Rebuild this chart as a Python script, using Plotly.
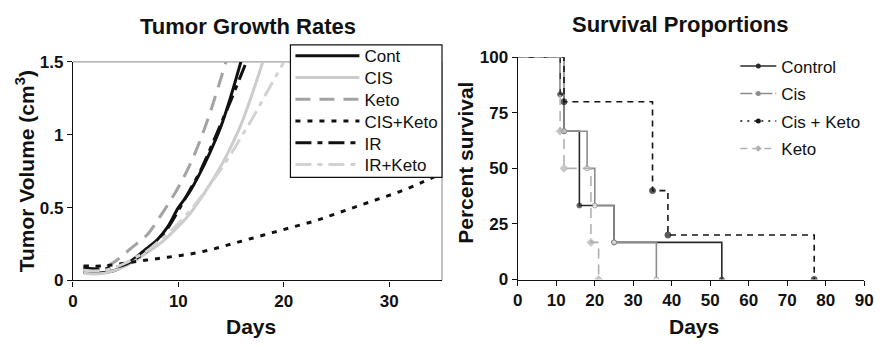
import plotly.graph_objects as go

# ---- Tumor growth (fitted volume curves, cm^3 by day) ----
days_cont = [1, 2, 3, 4, 5, 6, 7, 8, 9, 10, 11, 12, 13, 14, 15, 16]
vol_cont = [0.06, 0.05, 0.055, 0.07, 0.11, 0.16, 0.22, 0.28, 0.37, 0.5, 0.6, 0.73, 0.88, 1.05, 1.27, 1.52]

days_cis = [1, 2, 3, 4, 5, 6, 7, 8, 9, 10, 11, 12, 13, 14, 15, 16, 17, 18]
vol_cis = [0.05, 0.045, 0.05, 0.07, 0.1, 0.14, 0.19, 0.24, 0.3, 0.37, 0.45, 0.55, 0.66, 0.78, 0.92, 1.08, 1.28, 1.5]

days_keto = [1, 2, 3, 4, 5, 6, 7, 8, 9, 10, 11, 12, 13, 14, 15]
vol_keto = [0.08, 0.075, 0.09, 0.13, 0.19, 0.25, 0.31, 0.41, 0.52, 0.64, 0.78, 0.95, 1.15, 1.38, 1.62]

days_ciske = [1, 3, 5, 7, 9, 11, 13, 15, 17, 19, 21, 23, 25, 27, 29, 31, 33, 34.5]
vol_ciske = [0.10, 0.10, 0.12, 0.14, 0.16, 0.18, 0.21, 0.25, 0.29, 0.33, 0.37, 0.41, 0.46, 0.51, 0.56, 0.61, 0.67, 0.72]

days_ir = [1, 2, 3, 4, 5, 6, 7, 8, 9, 10, 11, 12, 13, 14, 15, 16, 17]
vol_ir = [0.09, 0.08, 0.08, 0.09, 0.11, 0.15, 0.2, 0.27, 0.36, 0.48, 0.61, 0.74, 0.9, 1.07, 1.24, 1.42, 1.6]

days_irke = [1, 2, 3, 4, 5, 6, 7, 8, 9, 10, 11, 12, 13, 14, 15, 16, 17, 18, 19, 20, 21]
vol_irke = [0.07, 0.065, 0.07, 0.09, 0.12, 0.16, 0.2, 0.26, 0.32, 0.39, 0.47, 0.56, 0.66, 0.76, 0.87, 0.99, 1.11, 1.24, 1.37, 1.5, 1.63]

growth_x_ticks = [0, 10, 20, 30]
growth_y_ticks = [0, 0.5, 1, 1.5]
growth_y_labels = ["0", "0.5", "1", "1.5"]

# ---- Survival (Kaplan-Meier step points) ----
surv_ctrl_x = [0, 11, 12, 16, 25, 53]
surv_ctrl_y = [100, 83.3, 66.7, 33.3, 16.7, 0]

surv_cis_x = [0, 12, 18, 20, 25, 36]
surv_cis_y = [100, 66.7, 50, 33.3, 16.7, 0]

surv_ck_x = [0, 12, 35, 39, 77]
surv_ck_y = [100, 80, 40, 20, 0]

surv_keto_x = [0, 11, 12, 19, 21]
surv_keto_y = [100, 66.7, 50, 16.7, 0]

surv_x_ticks = [0, 10, 20, 30, 40, 50, 60, 70, 80, 90]
surv_y_ticks = [0, 25, 50, 75, 100]

FONT = "Liberation Sans, Arial, sans-serif"
W, H = 889, 351

fig = go.Figure()

# growth curves: (name, x, y, color, dash)
growth = [
    ("Cont", days_cont, vol_cont, "#111111", "solid"),
    ("CIS", days_cis, vol_cis, "#cccccc", "solid"),
    ("Keto", days_keto, vol_keto, "#a3a3a3", "15px,9px"),
    ("CIS+Keto", days_ciske, vol_ciske, "#111111", "5px,7px"),
    ("IR", days_ir, vol_ir, "#111111", "16px,6px,5px,6px"),
    ("IR+Keto", days_irke, vol_irke, "#d2d2d2", "16px,6px,5px,6px"),
]
for i, (name, xs, ys, col, dash) in enumerate(growth):
    fig.add_trace(go.Scatter(
        x=xs, y=ys, name=name, mode="lines", line_shape="spline",
        line=dict(color=col, width=3, dash=dash),
        xaxis="x", yaxis="y", legend=f"legend{i + 6}" if i else "legend",
    ))

# survival curves: (name, x, y, line color, dash, symbol, marker size, marker fill)
surv = [
    ("Control", surv_ctrl_x, surv_ctrl_y, "#2a2a2a", "solid", "circle", 5, "#2a2a2a"),
    ("Cis", surv_cis_x, surv_cis_y, "#8c8c8c", "solid", "circle", 5, "white"),
    ("Cis + Keto", surv_ck_x, surv_ck_y, "#151515", "6px,5px", "circle", 6, "#151515"),
    ("Keto", surv_keto_x, surv_keto_y, "#b0b0b0", "10px,6px", "diamond", 6, "#b0b0b0"),
]
legend_dash = {"Control": "solid", "Cis": "12px,3px,2px,3px",
               "Cis + Keto": "2px,5px", "Keto": "7px,5px"}
for i, (name, xs, ys, col, dash, sym, ms, fill) in enumerate(surv):
    sizes = [0] + [ms] * (len(xs) - 1)
    fig.add_trace(go.Scatter(
        x=xs, y=ys, name=name, mode="lines+markers", line_shape="hv",
        line=dict(color=col, width=1.6, dash=dash),
        marker=dict(color=fill, size=sizes, symbol=sym, line=dict(color=col, width=1)),
        xaxis="x2", yaxis="y2", showlegend=False,
    ))
    fig.add_trace(go.Scatter(
        x=[None], y=[None], name=name, mode="lines+markers",
        line=dict(color=col, width=1.6, dash=legend_dash[name]),
        marker=dict(color=col if fill == "white" else fill, size=5, symbol=sym),
        xaxis="x2", yaxis="y2", legend=f"legend{i + 2}",
    ))

tick_font = dict(family=FONT, size=17, color="#111111", weight="bold")
ax_common = dict(showgrid=False, zeroline=False, showline=True, linecolor="#111111",
                 linewidth=1.3, ticks="outside", ticklen=5, tickcolor="#111111",
                 tickfont=tick_font)

gx0, gx1 = 69 / W, 444 / W
gy0, gy1 = 1 - 287 / H, 1 - 56 / H
sx0, sx1 = 521 / W, 873 / W
sy0, sy1 = 1 - 286 / H, 1 - 51 / H

legend_font = dict(family=FONT, size=17, color="#111111")
legends = {}
# growth legend entries, one per row inside the boxed area
growth_legend_ids = ["legend"] + [f"legend{k}" for k in range(7, 12)]
for i, lid in enumerate(growth_legend_ids):
    legends[lid] = dict(
        x=290 / W, y=1 - (50 + 23 * i) / H, xanchor="left", yanchor="middle",
        bgcolor="rgba(0,0,0,0)", borderwidth=0, font=legend_font, itemwidth=64,
    )
# survival legend entries
for i in range(4):
    legends[f"legend{i + 2}"] = dict(
        x=742 / W, y=1 - (60.7 + 29.1 * i) / H, xanchor="left", yanchor="middle",
        bgcolor="rgba(0,0,0,0)", borderwidth=0, font=legend_font, itemwidth=36,
    )

fig.update_layout(
    width=W, height=H, margin=dict(l=0, r=0, t=0, b=0),
    paper_bgcolor="white", plot_bgcolor="white",
    font=dict(family=FONT, color="#111111"),
    xaxis=dict(domain=[gx0, gx1], range=[0, 35], tickvals=growth_x_ticks,
               anchor="y", **ax_common),
    yaxis=dict(domain=[gy0, gy1], range=[0, 1.5], tickvals=growth_y_ticks,
               ticktext=growth_y_labels, anchor="x", **ax_common),
    xaxis2=dict(domain=[sx0, sx1], range=[0, 90], tickvals=surv_x_ticks,
                anchor="y2", **ax_common),
    yaxis2=dict(domain=[sy0, sy1], range=[0, 100], tickvals=surv_y_ticks,
                anchor="x2", **ax_common),
    showlegend=True,
    **legends,
)

# gray frame on top and right of the growth plot area
fig.add_shape(type="line", xref="x domain", yref="y domain", x0=0, x1=1, y0=1, y1=1,
              line=dict(color="#a0a0a0", width=1.3), layer="below")
fig.add_shape(type="line", xref="x domain", yref="y domain", x0=1, x1=1, y0=0, y1=1,
              line=dict(color="#a0a0a0", width=1.3), layer="below")
# boxed legend panel for the growth plot
fig.add_shape(type="rect", xref="paper", yref="paper",
              x0=290 / W, x1=444 / W, y0=1 - 178 / H, y1=1 - 38 / H,
              fillcolor="white", line=dict(color="#111111", width=1.2), layer="above")

title_font = dict(family=FONT, size=22, color="#111111", weight="bold")
axis_font = dict(family=FONT, size=21, color="#111111", weight="bold")
texts = [
    ("Tumor Growth Rates", 247, 18, 0, title_font),
    ("Survival Proportions", 686, 16, 0, title_font),
    ("Days", 250, 336, 0, axis_font),
    ("Days", 700, 336, 0, axis_font),
    ("Tumor Volume (cm<sup>3</sup>)", 20, 172, -90, axis_font),
    ("Percent survival", 468, 163, -90, axis_font),
]
for txt, px, py, ang, f in texts:
    fig.add_annotation(text=txt, x=px / W, y=1 - py / H, xref="paper", yref="paper",
                       xanchor="center", yanchor="middle", showarrow=False,
                       textangle=ang, font=f)

fig.write_html("out.html")
